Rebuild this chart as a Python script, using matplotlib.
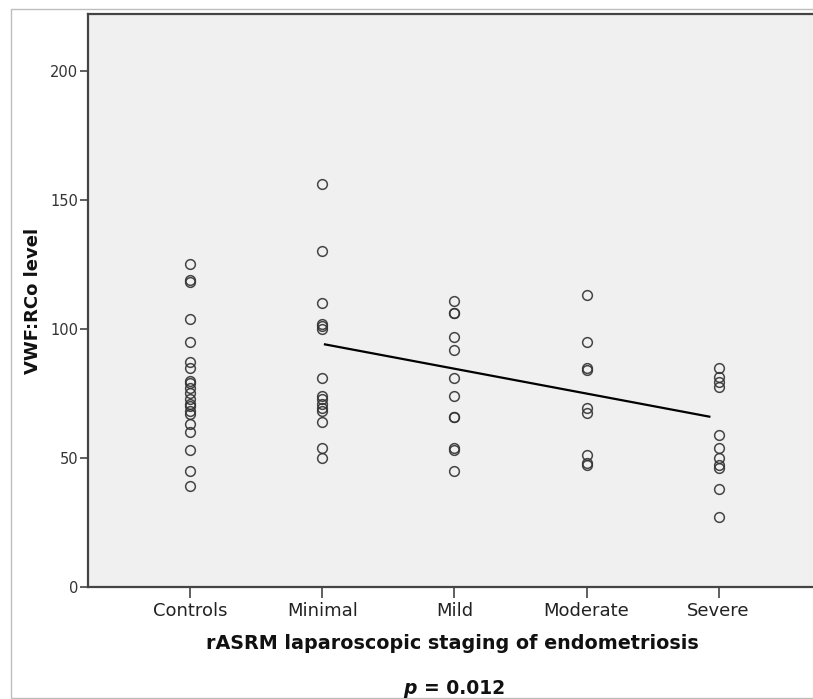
import matplotlib
matplotlib.use("Agg")
import matplotlib.pyplot as plt
from matplotlib.patches import Rectangle

categories = ["Controls", "Minimal", "Mild", "Moderate", "Severe"]

controls = [125, 119, 118, 104, 95, 87, 85, 80, 79, 77, 75, 73, 71, 70, 68, 67, 63, 60, 53, 45, 39]
minimal = [156, 130, 110, 102, 101, 100, 81, 74, 73, 71, 69.5, 68, 64, 54, 50]
mild = [111, 106, 106, 97, 92, 81, 74, 66, 66, 54, 53, 45]
moderate = [113, 95, 85, 84, 69.5, 67.5, 51, 48, 47.3]
severe = [85, 81.5, 79.5, 77.5, 59, 54, 50, 47.3, 46, 38, 27]

groups = [controls, minimal, mild, moderate, severe]

fit_x = [1.02, 3.93]
fit_y = [94.0, 66.0]

yticks = [0, 50, 100, 150, 200]

fig = plt.figure(figsize=(8.13, 6.99), dpi=100)
fig.patch.set_facecolor("white")

# outer light border
fig.patches.append(Rectangle((11 / 813, 1 / 699), 1.0, 689 / 699, transform=fig.transFigure,
                             fill=False, edgecolor="#bdbdbd", linewidth=1.0))

ax = fig.add_axes([88 / 813, 1 - 587 / 699, 0.897, (587 - 14) / 699])
ax.set_facecolor("#f0f0f0")

for i, vals in enumerate(groups):
    ax.plot([i] * len(vals), vals, linestyle="none", marker="o", markersize=7.0,
            markerfacecolor="none", markeredgecolor="#333333", markeredgewidth=1.1, alpha=0.9)

ax.plot(fit_x, fit_y, color="black", linewidth=1.6)

ax.set_xlim(-0.774, 4.747)
ax.set_ylim(0, 222)
ax.set_yticks(yticks)
ax.set_yticklabels([str(t) for t in yticks])
ax.set_xticks(range(len(categories)))
ax.set_xticklabels(categories)

for s in ax.spines.values():
    s.set_color("#444444")
    s.set_linewidth(1.6)

ax.tick_params(axis="y", direction="out", length=6, width=1.2, colors="#444444",
               labelsize=10.5, labelcolor="#333333", pad=1)
ax.tick_params(axis="x", direction="out", length=8, width=1.2, colors="#444444",
               labelsize=13, labelcolor="#222222", pad=3)

ax.set_xlabel("rASRM laparoscopic staging of endometriosis", fontsize=13.8, fontweight="bold",
              color="#111111", labelpad=10)
ax.set_ylabel("VWF:RCo level", fontsize=13, fontweight="bold", color="#111111", labelpad=6)

fig.text(417 / 813, 1 - 688 / 699, "p", fontsize=13.5, fontweight="bold", fontstyle="italic",
         ha="right", va="center", color="#111111")
fig.text(424 / 813, 1 - 688 / 699, "= 0.012", fontsize=13.5, fontweight="bold",
         ha="left", va="center", color="#111111")

fig.savefig("out.png", dpi=100)
